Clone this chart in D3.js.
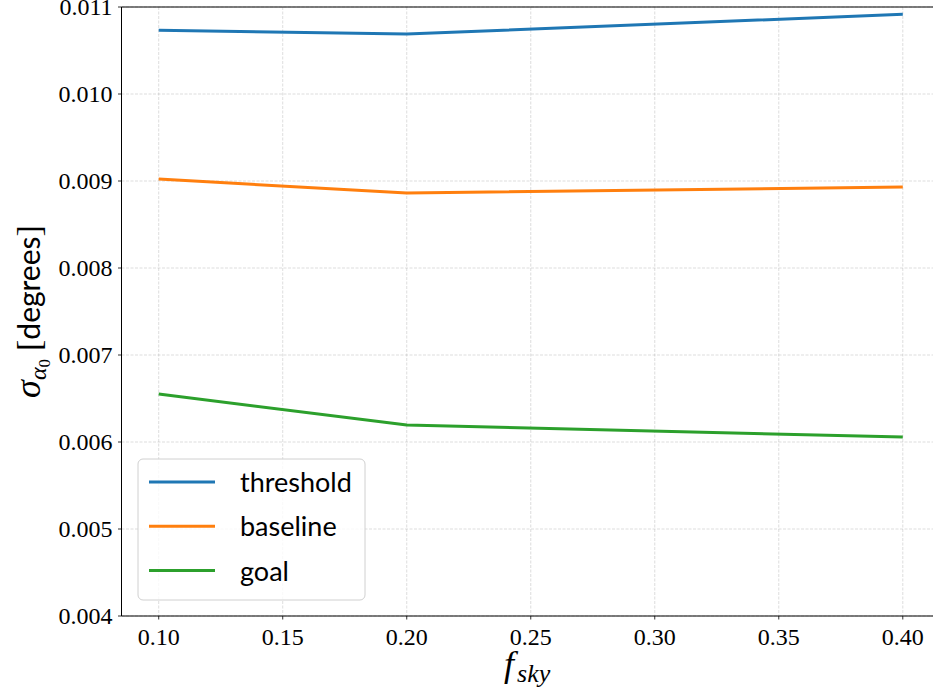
<!DOCTYPE html>
<html>
<head>
<meta charset="utf-8">
<script src="https://cdn.jsdelivr.net/npm/d3@7"></script>
</head>
<body style="margin:0">
<script>
// fsky values and sigma(alpha0) per configuration
const fsky = [0.10, 0.20, 0.40];
const threshold = [0.010732, 0.010690, 0.010916];
const baseline = [0.009023, 0.008862, 0.008931];
const goal = [0.006552, 0.006195, 0.006057];

const seriesNames = ['threshold', 'baseline', 'goal'];
const seriesColors = ['#1f77b4', '#ff7f0e', '#2ca02c'];
const xTicks = [0.10, 0.15, 0.20, 0.25, 0.30, 0.35, 0.40];
const yTicks = [0.004, 0.005, 0.006, 0.007, 0.008, 0.009, 0.010, 0.011];

const width = 933;
const height = 693;
const margins = { top: 7, right: -7, bottom: 77, left: 121.5 };

const svg = d3.select('body')
    .append('svg')
    .attr('width', width)
    .attr('height', height)
    .attr('font-family', 'Times New Roman')
    .style('display', 'block');

const plotWidth = width - margins.left - margins.right;
const plotHeight = height - margins.top - margins.bottom;

const xScale = d3.scaleLinear()
    .domain([0.085, 0.415])
    .range([0, plotWidth]);

const yScale = d3.scaleLinear()
    .domain([0.004, 0.011])
    .range([plotHeight, 0]);

const plotArea = svg.append('g')
    .attr('transform', `translate(${margins.left},${margins.top})`);

// Grid lines
const gridStyle = sel => sel
    .attr('stroke', '#b0b0b0')
    .attr('stroke-opacity', 0.55)
    .attr('stroke-width', 0.8)
    .attr('stroke-dasharray', '3,1.5');

plotArea.append('g')
    .selectAll('line')
    .data(xTicks)
    .join('line')
    .attr('x1', d => xScale(d))
    .attr('x2', d => xScale(d))
    .attr('y1', 0)
    .attr('y2', plotHeight)
    .call(gridStyle);

plotArea.append('g')
    .selectAll('line')
    .data(yTicks)
    .join('line')
    .attr('x1', 0)
    .attr('x2', plotWidth)
    .attr('y1', d => yScale(d))
    .attr('y2', d => yScale(d))
    .call(gridStyle);

// Series lines
const allSeries = [threshold, baseline, goal];
const line = d3.line()
    .x((d, i) => xScale(fsky[i]))
    .y(d => yScale(d));

allSeries.forEach((values, k) => {
    plotArea.append('path')
        .datum(values)
        .attr('fill', 'none')
        .attr('stroke', seriesColors[k])
        .attr('stroke-width', 3)
        .attr('d', line);
});

// Axes: tick labels written by hand from the scale so the font sticks
const xAxisG = plotArea.append('g')
    .attr('transform', `translate(0,${plotHeight})`);
xAxisG.append('line')
    .attr('x1', 0).attr('x2', plotWidth)
    .attr('stroke', '#000').attr('stroke-width', 1);
xAxisG.selectAll('line.tk')
    .data(xTicks)
    .join('line')
    .attr('class', 'tk')
    .attr('x1', d => xScale(d)).attr('x2', d => xScale(d))
    .attr('y1', 0).attr('y2', 3.5)
    .attr('stroke', '#000').attr('stroke-width', 0.8);
xAxisG.selectAll('text')
    .data(xTicks)
    .join('text')
    .attr('x', d => xScale(d))
    .attr('y', 29)
    .attr('text-anchor', 'middle')
    .attr('font-family', 'Times New Roman')
    .attr('font-size', 24)
    .attr('fill', '#000')
    .text(d3.format('.2f'));

const yAxisG = plotArea.append('g');
yAxisG.append('line')
    .attr('y1', 0).attr('y2', plotHeight)
    .attr('stroke', '#000').attr('stroke-width', 1);
yAxisG.selectAll('line.tk')
    .data(yTicks)
    .join('line')
    .attr('class', 'tk')
    .attr('y1', d => yScale(d)).attr('y2', d => yScale(d))
    .attr('x1', -3.5).attr('x2', 0)
    .attr('stroke', '#000').attr('stroke-width', 0.8);
yAxisG.selectAll('text')
    .data(yTicks)
    .join('text')
    .attr('x', -9)
    .attr('y', d => yScale(d) + 8)
    .attr('text-anchor', 'end')
    .attr('font-family', 'Times New Roman')
    .attr('font-size', 24)
    .attr('fill', '#000')
    .text(d3.format('.3f'));

// Top spine
plotArea.append('line')
    .attr('x1', 0)
    .attr('x2', plotWidth)
    .attr('y1', 0)
    .attr('y2', 0)
    .attr('stroke', '#000')
    .attr('stroke-width', 1);

// X label: f_sky
const xLabel = svg.append('text')
    .attr('x', 504)
    .attr('y', 676)
    .attr('font-family', 'Times New Roman')
    .attr('font-style', 'italic')
    .attr('font-size', 36)
    .attr('fill', '#000');
xLabel.append('tspan').text('f');
xLabel.append('tspan').attr('font-size', 26).attr('dx', 3).attr('dy', 6).text('sky');

// Y label: sigma_alpha0 [degrees]
const yLabel = svg.append('text')
    .attr('transform', `translate(40,${margins.top + plotHeight / 2}) rotate(-90)`)
    .attr('text-anchor', 'middle')
    .attr('font-family', 'Times New Roman')
    .attr('font-size', 36)
    .attr('fill', '#000');
yLabel.append('tspan')
    .attr('font-style', 'italic')
    .text('σ');
yLabel.append('tspan')
    .attr('font-style', 'italic')
    .attr('font-size', 24)
    .attr('dy', 6)
    .text('α');
yLabel.append('tspan')
    .attr('font-size', 17)
    .attr('dy', 4)
    .text('0');
yLabel.append('tspan')
    .attr('font-size', 34)
    .attr('dx', 8)
    .attr('dy', -10)
    .text('[');
yLabel.append('tspan')
    .attr('font-family', 'Lato')
    .attr('font-size', 30)
    .text('degrees');
yLabel.append('tspan')
    .attr('font-size', 34)
    .text(']');

// Legend
const legend = svg.append('g')
    .attr('transform', 'translate(138,459)');

legend.append('rect')
    .attr('x', 0)
    .attr('y', 0)
    .attr('width', 227)
    .attr('height', 141)
    .attr('rx', 5)
    .attr('fill', '#fff')
    .attr('fill-opacity', 0.8)
    .attr('stroke', '#d0d0d0')
    .attr('stroke-width', 1);

seriesNames.forEach((name, k) => {
    const y = 23 + k * 44.3;
    legend.append('line')
        .attr('x1', 11)
        .attr('x2', 77)
        .attr('y1', y)
        .attr('y2', y)
        .attr('stroke', seriesColors[k])
        .attr('stroke-width', 3);
    legend.append('text')
        .attr('x', 102)
        .attr('y', y + 10)
        .attr('font-family', 'Lato')
        .attr('font-size', 27)
        .attr('fill', '#000')
        .text(name);
});
</script>
</body>
</html>
